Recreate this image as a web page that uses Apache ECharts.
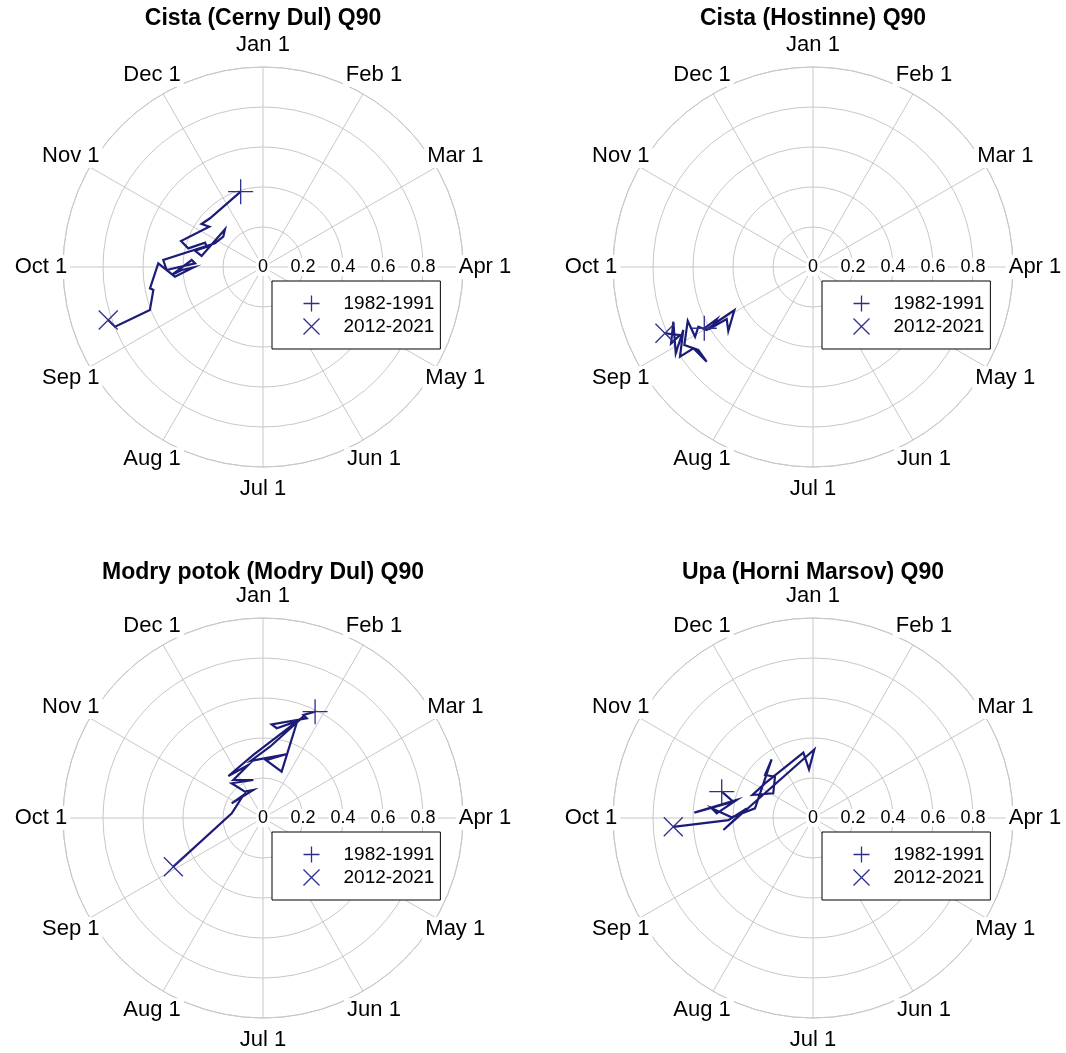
<!DOCTYPE html>
<html>
<head>
<meta charset="utf-8">
<script src="https://cdn.jsdelivr.net/npm/echarts@6/dist/echarts.min.js"></script>
<style>
  html, body { margin: 0; padding: 0; background: #fff; }
  #chart { width: 1066px; height: 1053px; }
</style>
</head>
<body>
<div id="chart"></div>
<script>
// Angular tick labels: Jan 1 at the top, running clockwise, 30 degrees apart
const monthLabels = ['Jan 1', 'Feb 1', 'Mar 1', 'Apr 1', 'May 1', 'Jun 1',
                     'Jul 1', 'Aug 1', 'Sep 1', 'Oct 1', 'Nov 1', 'Dec 1'];
// Radial tick labels (the outer ring at 1 is left unlabelled)
const radiusTicks = [0, 0.2, 0.4, 0.6, 0.8];
// The two reference periods: first window (+) and last window (x)
const periodNames = ['1982-1991', '2012-2021'];

const stationTitles = [
  'Cista (Cerny Dul) Q90',
  'Cista (Hostinne) Q90',
  'Modry potok (Modry Dul) Q90',
  'Upa (Horni Marsov) Q90'
];

// Moving-window trajectories: mean date of Q90 exceedance as an angle in
// degrees from Jan 1 (clockwise), and its concentration as the radius.
const cernyDulAngle = [343.5, 312.6, 305.0, 306.9, 287.6, 284.0, 292.8, 289.8, 283.5, 280.2,
                       314.8, 307.4, 296.3, 274.0, 268.2, 273.1, 275.6, 265.0, 267.9, 269.7,
                       263.7, 272.0, 259.3, 258.2, 249.2, 248.0, 251.1];
const cernyDulR     = [0.393, 0.360, 0.375, 0.336, 0.430, 0.385, 0.314, 0.299, 0.350, 0.312,
                       0.268, 0.250, 0.268, 0.500, 0.482, 0.340, 0.358, 0.458, 0.407, 0.348,
                       0.443, 0.524, 0.575, 0.560, 0.605, 0.798, 0.818];

const hostinneAngle = [240.6, 241.6, 239.1, 238.9, 232.9, 241.3, 240.3, 239.4, 242.5, 239.4,
                       246.7, 238.8, 234.1, 228.3, 235.8, 236.0, 244.1, 237.8, 248.6, 241.7,
                       242.9, 245.9];
const hostinneR     = [0.624, 0.547, 0.591, 0.504, 0.531, 0.448, 0.545, 0.618, 0.646, 0.685,
                       0.682, 0.752, 0.708, 0.712, 0.723, 0.802, 0.721, 0.811, 0.750, 0.806,
                       0.747, 0.811];

const modryDulAngle = [26.1, 21.4, 23.7, 5.3, 8.7, 19.5, 21.9, 3.0, 19.9, 347.8,
                       5.6, 21.7, 351.3, 320.5, 344.5, 322.0, 345.7, 317.9, 325.6, 340.9,
                       295.1, 319.5, 278.5, 241.5];
const modryDulR     = [0.592, 0.553, 0.544, 0.470, 0.454, 0.514, 0.250, 0.290, 0.339, 0.292,
                       0.358, 0.545, 0.319, 0.272, 0.275, 0.241, 0.196, 0.234, 0.160, 0.148,
                       0.173, 0.151, 0.158, 0.510];

const horniMarsovAngle = [286.1, 281.6, 272.6, 283.3, 272.8, 275.5, 270.5, 279.5, 324.8, 311.9,
                          317.4, 301.9, 290.8, 305.8, 351.6, 355.3, 1.1, 262.4, 278.3, 268.6,
                          266.4];
const horniMarsovR     = [0.475, 0.407, 0.594, 0.392, 0.482, 0.509, 0.407, 0.294, 0.359, 0.322,
                          0.281, 0.234, 0.324, 0.296, 0.330, 0.244, 0.343, 0.452, 0.335, 0.423,
                          0.700];

const trajectories = [
  { angle: cernyDulAngle, r: cernyDulR },
  { angle: hostinneAngle, r: hostinneR },
  { angle: modryDulAngle, r: modryDulR },
  { angle: horniMarsovAngle, r: horniMarsovR }
];

// ---- layout and styling ----
const FONT = "'Liberation Sans', Arial, sans-serif";
const GRID = '#c8c8c8';
const LINE = '#1c1c78';
const MARK = '#2e2e8e';
const CENTERS = [[263, 267], [813, 267], [263, 818], [813, 818]];
const TITLE_TOP = [7, 7, 561, 561];
const RADIUS = 200;
const LABEL_R = 1.11;             // month labels sit just outside the unit ring
const PLUS = 'path://M0,12L24,12M12,0L12,24';
const CROSS = 'path://M0,0L20,20M20,0L0,20';

// The angle axis runs from Apr (-270, at 3 o'clock) clockwise round to Apr again (90),
// so that Jan 1 (0) is at the top and the radius axis lies along the Apr spoke.
const wrap = a => (a > 90 ? a - 360 : a);

const polar = [], angleAxis = [], radiusAxis = [], series = [], title = [], legend = [];

CENTERS.forEach((c, i) => {
  polar.push({ center: c, radius: RADIUS });

  angleAxis.push({
    polarIndex: i, type: 'value', min: -270, max: 90, interval: 30,
    startAngle: 0, clockwise: true,
    axisLine: { show: true, lineStyle: { color: GRID, width: 1 } },
    axisTick: { show: false },
    axisLabel: { show: false },
    splitLine: { show: true, lineStyle: { color: GRID, width: 1 } }
  });

  radiusAxis.push({
    polarIndex: i, type: 'value', min: 0, max: 1, interval: 0.2, z: 1,
    axisLine: { show: false },
    axisTick: { show: false },
    splitLine: { show: true, lineStyle: { color: GRID, width: 1 } },
    axisLabel: {
      show: true, margin: -9, showMaxLabel: false,
      fontFamily: FONT, fontSize: 18, color: '#000',
      backgroundColor: '#fff', padding: [0, 2],
      formatter: v => {
        const k = radiusTicks.findIndex(t => Math.abs(t - v) < 1e-6);
        return k < 0 ? '' : String(radiusTicks[k]);
      }
    }
  });

  title.push({
    text: stationTitles[i], left: c[0], top: TITLE_TOP[i], textAlign: 'center', padding: 0,
    textStyle: { fontFamily: FONT, fontWeight: 'bold', fontSize: 23, color: '#000' }
  });

  const tr = trajectories[i];
  const pts = tr.angle.map((a, k) => [tr.r[k], wrap(a)]);

  series.push({
    type: 'line', coordinateSystem: 'polar', polarIndex: i,
    data: pts, symbol: 'none', silent: true, animation: false, z: 3,
    lineStyle: { color: LINE, width: 2.2, join: 'miter' }
  });
  series.push({
    type: 'scatter', name: periodNames[0], coordinateSystem: 'polar', polarIndex: i,
    data: [pts[0]], symbol: PLUS, symbolSize: 25, silent: true, animation: false, z: 4,
    itemStyle: { color: 'none', borderColor: MARK, borderWidth: 1.3, opacity: 1 }
  });
  series.push({
    type: 'scatter', name: periodNames[1], coordinateSystem: 'polar', polarIndex: i,
    data: [pts[pts.length - 1]], symbol: CROSS, symbolSize: 19, silent: true, animation: false, z: 4,
    itemStyle: { color: 'none', borderColor: MARK, borderWidth: 1.3, opacity: 1 }
  });
  // Month names around the rim
  series.push({
    type: 'scatter', coordinateSystem: 'polar', polarIndex: i, clip: false,
    data: monthLabels.map((m, k) => ({ name: m, value: [LABEL_R, wrap(k * 30)] })),
    symbolSize: 0, silent: true, animation: false, z: 2,
    itemStyle: { color: '#000', opacity: 1 },
    label: {
      show: true, position: [0, 0], align: 'center', verticalAlign: 'middle',
      formatter: p => p.name, opacity: 1,
      fontFamily: FONT, fontSize: 22, color: '#000',
      textBorderWidth: 0, textBorderColor: 'transparent',
      backgroundColor: '#fff', padding: [1, 3]
    }
  });

  legend.push({
    orient: 'vertical', left: c[0] + 9, top: c[1] + 14,
    padding: [12, 6, 12, 29], itemGap: 2, itemWidth: 54, itemHeight: 16,
    backgroundColor: '#fff', borderColor: '#000', borderWidth: 1, borderRadius: 0,
    selectedMode: false, z: 6,
    textStyle: { fontFamily: FONT, fontSize: 19, color: '#000' },
    data: [
      { name: periodNames[0], icon: PLUS,
        itemStyle: { color: 'none', borderColor: MARK, borderWidth: 1.3, opacity: 1 } },
      { name: periodNames[1], icon: CROSS,
        itemStyle: { color: 'none', borderColor: MARK, borderWidth: 1.3, opacity: 1 } }
    ]
  });
});

const chart = echarts.init(document.getElementById('chart'), null, { renderer: 'canvas' });
chart.setOption({
  backgroundColor: '#fff',
  animation: false,
  title, legend, polar, angleAxis, radiusAxis, series
});
</script>
</body>
</html>
